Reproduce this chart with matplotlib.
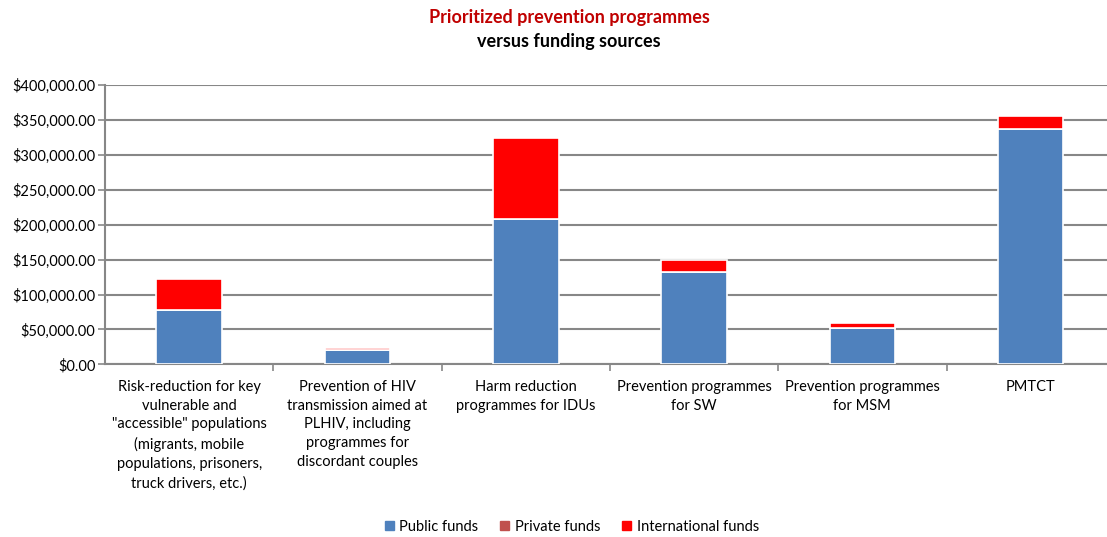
import numpy as np
import matplotlib.pyplot as plt
from matplotlib.ticker import FuncFormatter
from matplotlib.patches import Patch

plt.rcParams['font.family'] = ['Lato', 'DejaVu Sans']

categories = [
    'Risk-reduction for key\nvulnerable and\n"accessible" populations\n(migrants, mobile\npopulations, prisoners,\ntruck drivers, etc.)',
    'Prevention of HIV\ntransmission aimed at\nPLHIV, including\nprogrammes for\ndiscordant couples',
    'Harm reduction\nprogrammes for IDUs',
    'Prevention programmes\nfor SW',
    'Prevention programmes\nfor MSM',
    'PMTCT',
]
public_funds = [78000, 20000, 208000, 132000, 52500, 337000]
private_funds = [0, 0, 0, 0, 0, 0]
international_funds = [44000, 3000, 116000, 17500, 7000, 19000]

c_public = '#4F81BD'
c_private = '#C0504D'
c_intl = '#FF0000'

fig = plt.figure(figsize=(11.07, 5.37), dpi=100)
ax = fig.add_axes([105 / 1107, (537 - 364.3) / 537, (1107 - 105) / 1107, 279 / 537])

x = np.arange(len(categories))
w = 0.39
pub = np.array(public_funds)
pri = np.array(private_funds)
intl = np.array(international_funds)
ax.bar(x, pub, w, color=c_public, edgecolor='white', linewidth=1.2, zorder=3)
ax.bar(x, pri, w, bottom=pub, color=c_private, edgecolor='white', linewidth=1.2, zorder=3)
ax.bar(x, intl, w, bottom=pub + pri, color=c_intl, edgecolor='white', linewidth=1.2, zorder=3)

ax.set_ylim(0, 400000)
ax.set_xlim(-0.5, -0.5 + (1107 - 105) / 168.3)
ax.set_yticks(np.arange(0, 400001, 50000))
ax.yaxis.set_major_formatter(FuncFormatter(lambda v, p: '${:,.2f}'.format(v)))
ax.yaxis.grid(True, color='#878787', linewidth=1.5, zorder=0)

ax.set_xticks(x)
ax.set_xticklabels(categories, fontsize=10.5, linespacing=1.45)
ax.set_xticks(np.arange(0.5, len(categories) - 0.5), minor=True)
ax.tick_params(axis='x', which='major', length=0, pad=11)
ax.tick_params(axis='x', which='minor', length=5, color='#878787', width=1.2)
ax.tick_params(axis='y', length=5, color='#878787', width=1.2, labelsize=10.5, pad=2)

for s in ['top', 'right']:
    ax.spines[s].set_visible(False)
for s in ['left', 'bottom']:
    ax.spines[s].set_color('#878787')
    ax.spines[s].set_linewidth(1.5)

fig.text(569 / 1107, 1 - 18 / 537, 'Prioritized prevention programmes', color='#C00000',
         fontsize=13, fontweight='bold', ha='center', va='center')
fig.text(569 / 1107, 1 - 42 / 537, 'versus funding sources', color='black',
         fontsize=13, fontweight='bold', ha='center', va='center')

handles = [Patch(color=c_public), Patch(color=c_private), Patch(color=c_intl)]
fig.legend(handles, ['Public funds', 'Private funds', 'International funds'],
           loc='center', bbox_to_anchor=(572 / 1107, 1 - 527 / 537), ncol=3, frameon=False,
           fontsize=10.5, handlelength=0.6, handleheight=0.6, handletextpad=0.4, columnspacing=1.5)

fig.savefig('out.png', dpi=100)
